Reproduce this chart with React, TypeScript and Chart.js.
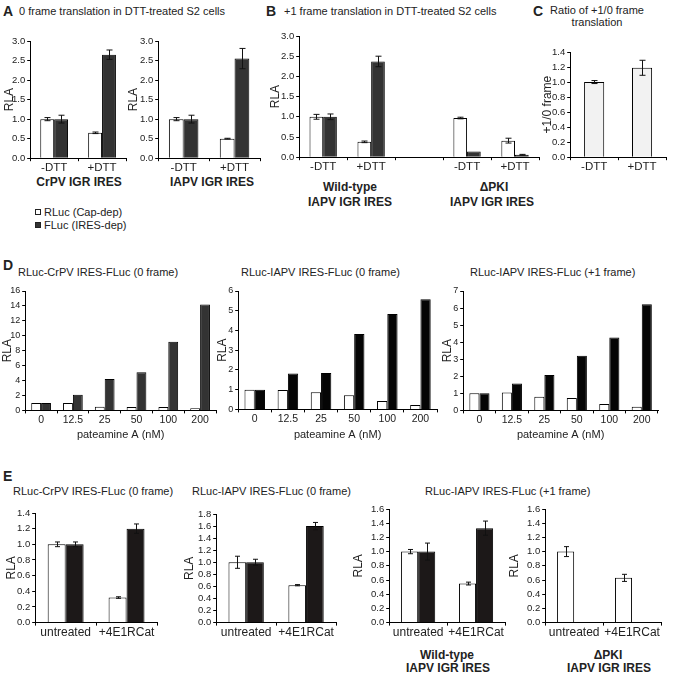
import React, { useEffect, useRef } from 'react';
import { Chart, registerables } from 'chart.js';
Chart.register(...registerables);

const FONT = "'Liberation Sans', Arial, Helvetica, sans-serif";
const INK = '#222';

// ---------- DATA ----------
// Panel A: 0 frame translation in DTT-treated S2 cells
const dttLabels = ['-DTT', '+DTT'];
const aCrpvRluc = [1.0, 0.65];
const aCrpvRlucErr = [0.04, 0.02];
const aCrpvFluc = [1.0, 2.65];
const aCrpvFlucErr = [0.1, 0.12];
const aIapvRluc = [1.0, 0.5];
const aIapvRlucErr = [0.04, 0.01];
const aIapvFluc = [1.0, 2.55];
const aIapvFlucErr = [0.1, 0.26];

// Panel B: +1 frame translation (wild-type, gap, ΔPKI)
const bLabels = ['-DTT', '+DTT', '', '-DTT', '+DTT'];
const bRluc = [1.0, 0.38, null, 0.97, 0.41];
const bRlucErr = [0.06, 0.02, null, 0.02, 0.06];
const bFluc = [1.0, 2.37, null, 0.14, 0.06];
const bFlucErr = [0.07, 0.13, null, 0, 0.01];

// Panel C: ratio of +1/0 frame translation
const cRatio = [1.0, 1.19];
const cRatioErr = [0.02, 0.1];

// Panel D: pateamine A titration
const patLabels = ['0', '12.5', '25', '50', '100', '200'];
const d1Rluc = [1.0, 1.0, 0.5, 0.45, 0.45, 0.3];
const d1Fluc = [1.0, 2.1, 4.2, 5.1, 9.2, 14.2];
const d2Rluc = [1.0, 0.98, 0.87, 0.72, 0.42, 0.22];
const d2Fluc = [1.0, 1.82, 1.85, 3.82, 4.83, 5.58];
const d3Rluc = [1.0, 1.05, 0.8, 0.72, 0.37, 0.22];
const d3Fluc = [1.0, 1.57, 2.08, 3.2, 4.27, 6.22];

// Panel E: 4E1RCat
const catLabels = ['untreated', '+4E1RCat'];
const e1Rluc = [1.0, 0.32];
const e1RlucErr = [0.03, 0.01];
const e1Fluc = [1.0, 1.2];
const e1FlucErr = [0.03, 0.06];
const e2Rluc = [1.0, 0.62];
const e2RlucErr = [0.1, 0.01];
const e2Fluc = [1.0, 1.6];
const e2FlucErr = [0.05, 0.06];
const e3Rluc = [1.0, 0.55];
const e3RlucErr = [0.03, 0.02];
const e3Fluc = [1.0, 1.33];
const e3FlucErr = [0.12, 0.1];
const e4Rluc = [1.0, 0.63];
const e4RlucErr = [0.07, 0.05];
const e4Fluc = [null, null];

// ---------- PLUGIN ----------
const errorBars = {
  id: 'errorBars',
  afterDatasetsDraw(chart: any) {
    const ctx = chart.ctx;
    const ys = chart.scales.y;
    const cap = chart.options.plugins.errorBars?.cap ?? 3;
    chart.data.datasets.forEach((ds: any, i: number) => {
      const err = ds.errors;
      if (!err) return;
      const meta = chart.getDatasetMeta(i);
      meta.data.forEach((bar: any, j: number) => {
        const e = err[j];
        const v = ds.data[j];
        if (e == null || v == null || e === 0) return;
        const x = Math.round(bar.x) + 0.5;
        const y1 = ys.getPixelForValue(v - e);
        const y2 = ys.getPixelForValue(v + e);
        ctx.save();
        ctx.strokeStyle = '#111';
        ctx.lineWidth = 1;
        ctx.beginPath();
        ctx.moveTo(x, y1);
        ctx.lineTo(x, y2);
        ctx.moveTo(x - cap, y1);
        ctx.lineTo(x + cap, y1);
        ctx.moveTo(x - cap, y2);
        ctx.lineTo(x + cap, y2);
        ctx.stroke();
        ctx.restore();
      });
    });
  },
};

type DS = { label: string; data: (number | null)[]; errors?: (number | null)[]; color: string };
type Spec = {
  axisX: number; top: number; right: number; bottom: number;
  labels: string[]; datasets: DS[];
  yMax: number; yStep: number; yDec: number;
  yTitle: string; yTitleX: number; yTitleSize: number;
  yTickSize: number; xTickSize: number;
  xTitle?: string; xTitleY?: number; xTitleSize?: number;
  catPct: number; cap?: number;
};

function BarPanel({ s }: { s: Spec }) {
  const ref = useRef<HTMLCanvasElement | null>(null);
  const yLh = s.yTitleSize * 1.2;
  const cl = s.yTitleX - yLh / 2;
  const ct = s.top - 8;
  const cw = s.right + 12 - cl;
  const xLh = (s.xTitleSize ?? 11) * 1.2;
  const xh = s.xTitle ? (s.xTitleY as number) + xLh / 2 - s.bottom : s.xTickSize * 1.2 + 6;
  const ch = s.bottom + xh - ct;
  const yW = s.axisX - cl;

  useEffect(() => {
    const chart = new Chart(ref.current as HTMLCanvasElement, {
      type: 'bar',
      data: {
        labels: s.labels,
        datasets: s.datasets.map((d) => ({
          label: d.label,
          data: d.data as any,
          errors: d.errors,
          backgroundColor: d.color,
          borderColor: '#000',
          borderWidth: 1,
          categoryPercentage: s.catPct,
          barPercentage: 1,
        })) as any,
      },
      options: {
        animation: false,
        responsive: false,
        layout: { padding: { left: 0, top: 8, right: 12, bottom: 0 } },
        plugins: {
          legend: { display: false },
          tooltip: { enabled: false },
          errorBars: { cap: s.cap ?? 3 },
        } as any,
        scales: {
          x: {
            grid: { display: true, drawOnChartArea: false, drawTicks: true, tickLength: 3, color: '#000', offset: true },
            border: { display: true, color: '#000', width: 1 },
            ticks: {
              font: { family: FONT, size: s.xTickSize, lineHeight: 1.2 },
              color: INK, padding: 0, autoSkip: false, maxRotation: 0, minRotation: 0,
            },
            title: s.xTitle
              ? { display: true, text: s.xTitle, font: { family: FONT, size: s.xTitleSize ?? 11, lineHeight: 1.2 }, color: INK, padding: 0 }
              : { display: false },
            afterFit: (sc: any) => { sc.height = xh; },
          },
          y: {
            min: 0,
            max: s.yMax,
            ticks: {
              stepSize: s.yStep,
              autoSkip: false,
              font: { family: FONT, size: s.yTickSize, lineHeight: 1 },
              color: INK,
              padding: 2,
              callback: (v: any) => Number(v).toFixed(s.yDec),
            },
            grid: { display: true, drawOnChartArea: false, drawTicks: true, tickLength: 3, color: '#000' },
            border: { display: true, color: '#000', width: 1 },
            title: { display: true, text: s.yTitle, font: { family: FONT, size: s.yTitleSize, lineHeight: 1.2 }, color: INK, padding: 0 },
            afterFit: (sc: any) => { sc.width = yW; },
          },
        },
      } as any,
      plugins: [errorBars],
    });
    return () => chart.destroy();
  }, []);

  return (
    <canvas
      ref={ref}
      width={Math.round(cw)}
      height={Math.round(ch)}
      style={{ position: 'absolute', left: Math.round(cl), top: Math.round(ct), width: Math.round(cw), height: Math.round(ch) }}
    />
  );
}

function T({ x, y, text, size = 11, bold = false, center = false }: { x: number; y: number; text: string; size?: number; bold?: boolean; center?: boolean }) {
  return (
    <div
      style={{
        position: 'absolute', left: x, top: y, whiteSpace: 'nowrap', lineHeight: 1,
        fontFamily: FONT, fontSize: size, fontWeight: bold ? 'bold' : 'normal', color: INK,
        transform: center ? 'translate(-50%, -50%)' : 'translateY(-50%)',
      }}
    >
      {text}
    </div>
  );
}

const WHITE = '#ffffff';
const DARK = '#333333';
const BLACK = '#050505';
const EBLACK = '#1c1818';

const aBase = { top: 41, bottom: 158, yMax: 3, yStep: 0.5, yDec: 1, yTitle: 'RLA', yTitleSize: 12, yTickSize: 9.5, xTickSize: 11.5, catPct: 0.58, labels: dttLabels };
const dBase = { top: 291, labels: patLabels, yDec: 0, yTitle: 'RLA', yTitleSize: 12, yTickSize: 9, xTickSize: 10.5, xTitle: 'pateamine A (nM)', xTitleY: 435, xTitleSize: 11, catPct: 0.62 };
const eBase = { bottom: 623, labels: catLabels, yStep: 0.2, yDec: 1, yTitle: 'RLA', yTitleSize: 12, yTickSize: 9.5, xTickSize: 12, catPct: 0.59, cap: 2.5 };

const specs: Spec[] = [
  { ...aBase, axisX: 30, right: 126, yTitleX: 9,
    datasets: [
      { label: 'RLuc (Cap-dep)', data: aCrpvRluc, errors: aCrpvRlucErr, color: WHITE },
      { label: 'FLuc (IRES-dep)', data: aCrpvFluc, errors: aCrpvFlucErr, color: DARK },
    ] },
  { ...aBase, axisX: 158, right: 260, yTitleX: 133,
    datasets: [
      { label: 'RLuc (Cap-dep)', data: aIapvRluc, errors: aIapvRlucErr, color: WHITE },
      { label: 'FLuc (IRES-dep)', data: aIapvFluc, errors: aIapvFlucErr, color: DARK },
    ] },
  { ...aBase, top: 36, bottom: 157, axisX: 299, right: 539, yTitleX: 275, labels: bLabels, catPct: 0.57,
    datasets: [
      { label: 'RLuc (Cap-dep)', data: bRluc, errors: bRlucErr, color: WHITE },
      { label: 'FLuc (IRES-dep)', data: bFluc, errors: bFlucErr, color: DARK },
    ] },
  { ...aBase, top: 52, bottom: 157, axisX: 570, right: 666, yTitleX: 547, yMax: 1.4, yStep: 0.2, yTitle: '+1/0 frame', catPct: 0.42,
    datasets: [
      { label: '+1/0 frame', data: cRatio, errors: cRatioErr, color: '#f2f2f2' },
    ] },
  { ...dBase, axisX: 25, right: 216, bottom: 410, yMax: 16, yStep: 2, yTitleX: 7,
    datasets: [
      { label: 'RLuc', data: d1Rluc, color: WHITE },
      { label: 'FLuc', data: d1Fluc, color: DARK },
    ] },
  { ...dBase, axisX: 238, right: 437, bottom: 409, yMax: 6, yStep: 1, yTitleX: 222,
    datasets: [
      { label: 'RLuc', data: d2Rluc, color: WHITE },
      { label: 'FLuc', data: d2Fluc, color: BLACK },
    ] },
  { ...dBase, axisX: 463, right: 658, bottom: 410, yMax: 7, yStep: 1, yTitleX: 447,
    datasets: [
      { label: 'RLuc', data: d3Rluc, color: WHITE },
      { label: 'FLuc', data: d3Fluc, color: BLACK },
    ] },
  { ...eBase, axisX: 35, top: 513, right: 157, yMax: 1.4, yTitleX: 11,
    datasets: [
      { label: 'RLuc', data: e1Rluc, errors: e1RlucErr, color: WHITE },
      { label: 'FLuc', data: e1Fluc, errors: e1FlucErr, color: EBLACK },
    ] },
  { ...eBase, axisX: 216, top: 514, right: 336, yMax: 1.8, yTitleX: 189,
    datasets: [
      { label: 'RLuc', data: e2Rluc, errors: e2RlucErr, color: WHITE },
      { label: 'FLuc', data: e2Fluc, errors: e2FlucErr, color: EBLACK },
    ] },
  { ...eBase, axisX: 389, top: 509, right: 505, yMax: 1.6, yTitleX: 358,
    datasets: [
      { label: 'RLuc', data: e3Rluc, errors: e3RlucErr, color: WHITE },
      { label: 'FLuc', data: e3Fluc, errors: e3FlucErr, color: EBLACK },
    ] },
  { ...eBase, axisX: 545, top: 509, right: 661, yMax: 1.6, yTitleX: 514,
    datasets: [
      { label: 'RLuc', data: e4Rluc, errors: e4RlucErr, color: WHITE },
      { label: 'FLuc', data: e4Fluc, color: EBLACK },
    ] },
];

export default function App() {
  return (
    <div style={{ position: 'absolute', left: 0, top: 0, width: 673, height: 674, background: '#fff', overflow: 'hidden' }}>
      {/* Panel letters and titles */}
      <T x={3} y={11} text="A" size={14} bold />
      <T x={19} y={11} text="0 frame translation in DTT-treated S2 cells" size={11} />
      <T x={266} y={11} text="B" size={14} bold />
      <T x={284} y={11} text="+1 frame translation in DTT-treated S2 cells" size={11} />
      <T x={533} y={11} text="C" size={14} bold />
      <T x={597} y={10} text="Ratio of +1/0 frame" size={11} center />
      <T x={597} y={22} text="translation" size={11} center />

      <T x={79} y={182} text="CrPV IGR IRES" size={12} bold center />
      <T x={212} y={182} text="IAPV IGR IRES" size={12} bold center />
      <T x={350} y={187} text="Wild-type" size={12} bold center />
      <T x={350} y={202} text="IAPV IGR IRES" size={12} bold center />
      <T x={494} y={187} text="ΔPKI" size={12} bold center />
      <T x={492} y={202} text="IAPV IGR IRES" size={12} bold center />

      {/* Legend */}
      <div style={{ position: 'absolute', left: 35, top: 209, width: 4, height: 4, border: '1px solid #222', background: '#fff' }} />
      <T x={44} y={212} text="RLuc (Cap-dep)" size={11} />
      <div style={{ position: 'absolute', left: 35, top: 222, width: 4, height: 4, border: '1px solid #222', background: DARK }} />
      <T x={44} y={225} text="FLuc (IRES-dep)" size={11} />

      <T x={3} y={265} text="D" size={14} bold />
      <T x={18} y={272} text="RLuc-CrPV IRES-FLuc (0 frame)" size={11} />
      <T x={241} y={272} text="RLuc-IAPV IRES-FLuc (0 frame)" size={11} />
      <T x={470} y={272} text="RLuc-IAPV IRES-FLuc (+1 frame)" size={11} />

      <T x={3} y={476} text="E" size={14} bold />
      <T x={13} y={491} text="RLuc-CrPV IRES-FLuc (0 frame)" size={11} />
      <T x={192} y={491} text="RLuc-IAPV IRES-FLuc (0 frame)" size={11} />
      <T x={425} y={491} text="RLuc-IAPV IRES-FLuc (+1 frame)" size={11} />

      <T x={447} y={655} text="Wild-type" size={12} bold center />
      <T x={448} y={668} text="IAPV IGR IRES" size={12} bold center />
      <T x={608} y={655} text="ΔPKI" size={12} bold center />
      <T x={609} y={668} text="IAPV IGR IRES" size={12} bold center />

      {specs.map((s, i) => (
        <BarPanel key={i} s={s} />
      ))}
    </div>
  );
}
